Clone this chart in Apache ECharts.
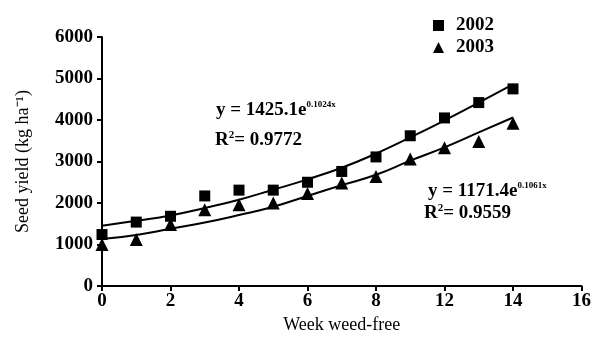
<!DOCTYPE html>
<html><head><meta charset="utf-8">
<script src="https://cdn.jsdelivr.net/npm/echarts@6/dist/echarts.min.js"></script>
<style>html,body{margin:0;padding:0;background:#fff}#c{width:594px;height:343px}</style>
</head><body><div id="c"></div>
<script>
// axis positions (tick labels on the original are unevenly named)
const xPos = [0,1,2,3,4,5,6,7,8,9,10,11,12];
const xTickLabels = ['0','2','4','6','8','12','14','16'];
const yield2002 = [1240,1540,1680,2170,2310,2310,2500,2760,3110,3620,4050,4420,4750];
const yield2003 = [1000,1120,1480,1840,1960,2000,2230,2480,2640,3060,3330,3480,3920];
// trend lines
const trend2002 = [1450,1570,1700,1880,2080,2320,2570,2850,3190,3580,3990,4420,4860];
const trend2003 = [1130,1230,1380,1530,1710,1910,2170,2430,2680,3020,3340,3700,4060];

const zip = (xs, ys) => xs.map((x,i)=>[x, ys[i]]);
const font = 'Liberation Serif';
const eqRich = {
  a:{fontFamily:font, fontWeight:'bold', fontSize:19, fill:'#000'},
  s:{fontFamily:font, fontWeight:'bold', fontSize:9, fill:'#000', verticalAlign:'top', padding:[0,0,12,0]},
  r:{fontFamily:font, fontWeight:'bold', fontSize:11, fill:'#000', verticalAlign:'top', padding:[0,0,9,0]}
};
const chart = echarts.init(document.getElementById('c'), null, {renderer:'canvas'});
chart.setOption({
  animation:false,
  backgroundColor:'#fff',
  textStyle:{fontFamily:font, color:'#000'},
  grid:{left:102, right:11, top:37, bottom:57},
  legend:{
    data:[{name:'2002', icon:'rect'},{name:'2003', icon:'triangle'}],
    orient:'vertical', left:428, top:11, itemWidth:11, itemHeight:11, itemGap:3,
    itemStyle:{color:'#000', opacity:1},
    textStyle:{fontFamily:font, fontWeight:'bold', fontSize:19, color:'#000', padding:[0,0,0,7]}
  },
  xAxis:{
    type:'value', min:0, max:14, interval:2,
    name:'Week weed-free', nameLocation:'middle', nameGap:30,
    nameTextStyle:{fontFamily:font, fontSize:18, color:'#000'},
    axisLine:{lineStyle:{color:'#000', width:2}},
    axisTick:{show:true, length:5, lineStyle:{color:'#000', width:2}},
    axisLabel:{fontFamily:font, fontWeight:'bold', fontSize:19, color:'#000', margin:6,
      formatter:v => xTickLabels[v/2]},
    splitLine:{show:false}
  },
  yAxis:{
    type:'value', min:0, max:6000, interval:1000,
    name:'Seed yield (kg ha\u207B\u00B9)', nameLocation:'middle', nameGap:70, nameRotate:90,
    nameTextStyle:{fontFamily:font, fontSize:18, color:'#000'},
    axisLine:{show:true, lineStyle:{color:'#000', width:2}},
    axisTick:{show:true, length:5, lineStyle:{color:'#000', width:2}},
    axisLabel:{fontFamily:font, fontWeight:'bold', fontSize:19, color:'#000', margin:9,
      formatter:v => String(v)},
    splitLine:{show:false}
  },
  graphic:[
    {type:'text', left:216, top:100, style:{text:'{a|y = 1425.1e}{s|0.1024x}', rich:eqRich}},
    {type:'text', left:215, top:130, style:{text:'{a|R}{r|2}{a|= 0.9772}', rich:eqRich}},
    {type:'text', left:428, top:181, style:{text:'{a|y = 1171.4e}{s|0.1061x}', rich:eqRich}},
    {type:'text', left:424, top:203, style:{text:'{a|R}{r|2}{a|= 0.9559}', rich:eqRich}}
  ],
  series:[
    {name:'trend2002', type:'line', data:zip(xPos, trend2002), smooth:true, symbol:'none',
      lineStyle:{color:'#000', width:2}, z:1},
    {name:'trend2003', type:'line', data:zip(xPos, trend2003), smooth:true, symbol:'none',
      lineStyle:{color:'#000', width:2}, z:1},
    {name:'2002', type:'scatter', data:zip(xPos, yield2002), symbol:'rect', symbolSize:11,
      itemStyle:{color:'#000', opacity:1}, z:3},
    {name:'2003', type:'scatter', data:zip(xPos, yield2003), symbol:'triangle', symbolSize:13,
      itemStyle:{color:'#000', opacity:1}, z:3}
  ]
});
</script></body></html>
